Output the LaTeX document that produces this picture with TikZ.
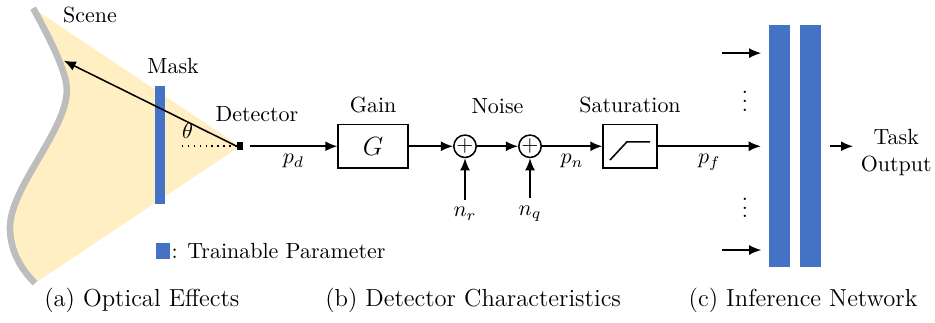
\documentclass[tikz,border=0pt]{standalone}
\usepackage{amsmath, amssymb}
\usepackage{xcolor}
\usepackage{tikz}
\usetikzlibrary{arrows.meta, positioning, calc, shapes.geometric}
\definecolor{paramblue}{HTML}{4472C4}
\definecolor{conefill}{HTML}{FFEFC2}
\definecolor{scenegray}{HTML}{BDBDBD}

\begin{document}
\begin{tikzpicture}[
    box/.style={draw, line width=0.7pt, minimum height=0.7cm, minimum width=1.12cm, inner sep=0pt},
    sum/.style={draw, circle, line width=0.7pt, minimum size=0.32cm, inner sep=0pt},
    bar/.style={fill=paramblue, inner sep=0pt},
    arr/.style={-{Latex[length=5.5pt, width=4.5pt]}, line width=0.7pt},
    lbl/.style={midway, below},
    capt/.style={font=\fontsize{11.2}{13}\selectfont},
]
\useasboundingbox (0,-2.82) rectangle (14.96,2.34);

% Scene and field of view
\fill[conefill] (0.53,2.21) .. controls (0.72,1.86) and (1.07,1.22) .. (1.07,0.9)
    .. controls (1.07,0.26) and (0.16,-0.66) .. (0.16,-1.3)
    .. controls (0.16,-1.66) and (0.32,-1.95) .. (0.56,-2.19) -- (3.84,0) -- cycle;
\draw[scenegray, line width=3pt] (0.53,2.21) .. controls (0.72,1.86) and (1.07,1.22) .. (1.07,0.9)
    .. controls (1.07,0.26) and (0.16,-0.66) .. (0.16,-1.3)
    .. controls (0.16,-1.66) and (0.32,-1.95) .. (0.56,-2.19);
\coordinate (hit) at (1.02,1.37);
\node at (1.44,2.1) (scene) {Scene};

% Detector and mask
\node[fill=black, minimum width=0.09cm, minimum height=0.13cm, inner sep=0pt] (det) at (3.84,0) {};
\node[bar, minimum width=0.16cm, minimum height=1.89cm] (mask) at (2.56,0.02) {};
\node (masklbl) at (2.77,1.28) {Mask};
\node (detlbl) at (4.11,0.51) {Detector};
\coordinate (dotend) at (2.9,0);
\draw[dotted, line width=0.7pt] (det.west) -- (dotend);
\node (theta) at (3.0,0.24) {$\theta$};
\draw[arr] (det.west) -- (hit);

% Detector characteristics
\node[box] (gain) at (5.97,0) {\large $G$};
\node[above=0.05cm of gain] (gainlbl) {Gain};
\node[sum] (sumr) at (7.44,0) {$+$};
\node[sum] (sumq) at (8.48,0) {$+$};
\node (noiselbl) at (7.96,0.64) {Noise};
\node (nr) at (7.44,-1.08) {$n_r$};
\node (nq) at (8.48,-1.08) {$n_q$};
\node[box, minimum width=0.86cm] (sat) at (10.08,0) {};
\node[above=0.05cm of sat] (satlbl) {Saturation};
\draw[line width=0.7pt] ($(sat)+(-0.32,-0.22)$) -- ($(sat)+(-0.05,0.07)$) -- ($(sat)+(0.32,0.07)$);

\draw[arr] ([xshift=0.1cm]det.east) -- (gain) node[lbl] {$p_d$};
\draw[arr] (gain) -- (sumr);
\draw[arr] (sumr) -- (sumq);
\draw[arr] (sumq) -- (sat) node[lbl] {$p_n$};
\draw[arr] (nr) -- (sumr);
\draw[arr] (nq) -- (sumq);

% Inference network
\node[bar, minimum width=0.34cm, minimum height=3.87cm] (layer1) at (12.47,0) {};
\node[bar, minimum width=0.34cm, minimum height=3.87cm] (layer2) at (12.97,0) {};
\coordinate (intop) at (11.55,1.49);
\coordinate (inbot) at (11.55,-1.66);
\draw[arr] (intop) -- ++(0.63,0);
\draw[arr] (inbot) -- ++(0.63,0);
\draw[arr] (sat) -- ([xshift=-0.12cm]layer1.west) node[lbl] {$p_f$};
\node (dotsa) at (11.92,0.82) {$\vdots$};
\node (dotsb) at (11.92,-0.88) {$\vdots$};
\node[align=center] (task) at (14.34,-0.1) {Task\\Output};
\draw[arr] ([xshift=0.13cm]layer2.east) -- (task.west |- layer2.east);

% Legend
\node[bar, minimum width=0.22cm, minimum height=0.26cm] (legend) at (2.61,-1.68) {};
\node[right=0.01cm of legend, inner sep=0pt] (legendlbl) {: Trainable Parameter};

% Captions
\node[capt] (capa) at (2.27,-2.46) {(a) Optical Effects};
\node[capt] (capb) at (7.57,-2.46) {(b) Detector Characteristics};
\node[capt] (capc) at (12.85,-2.46) {(c) Inference Network};
\end{tikzpicture}
\end{document}
